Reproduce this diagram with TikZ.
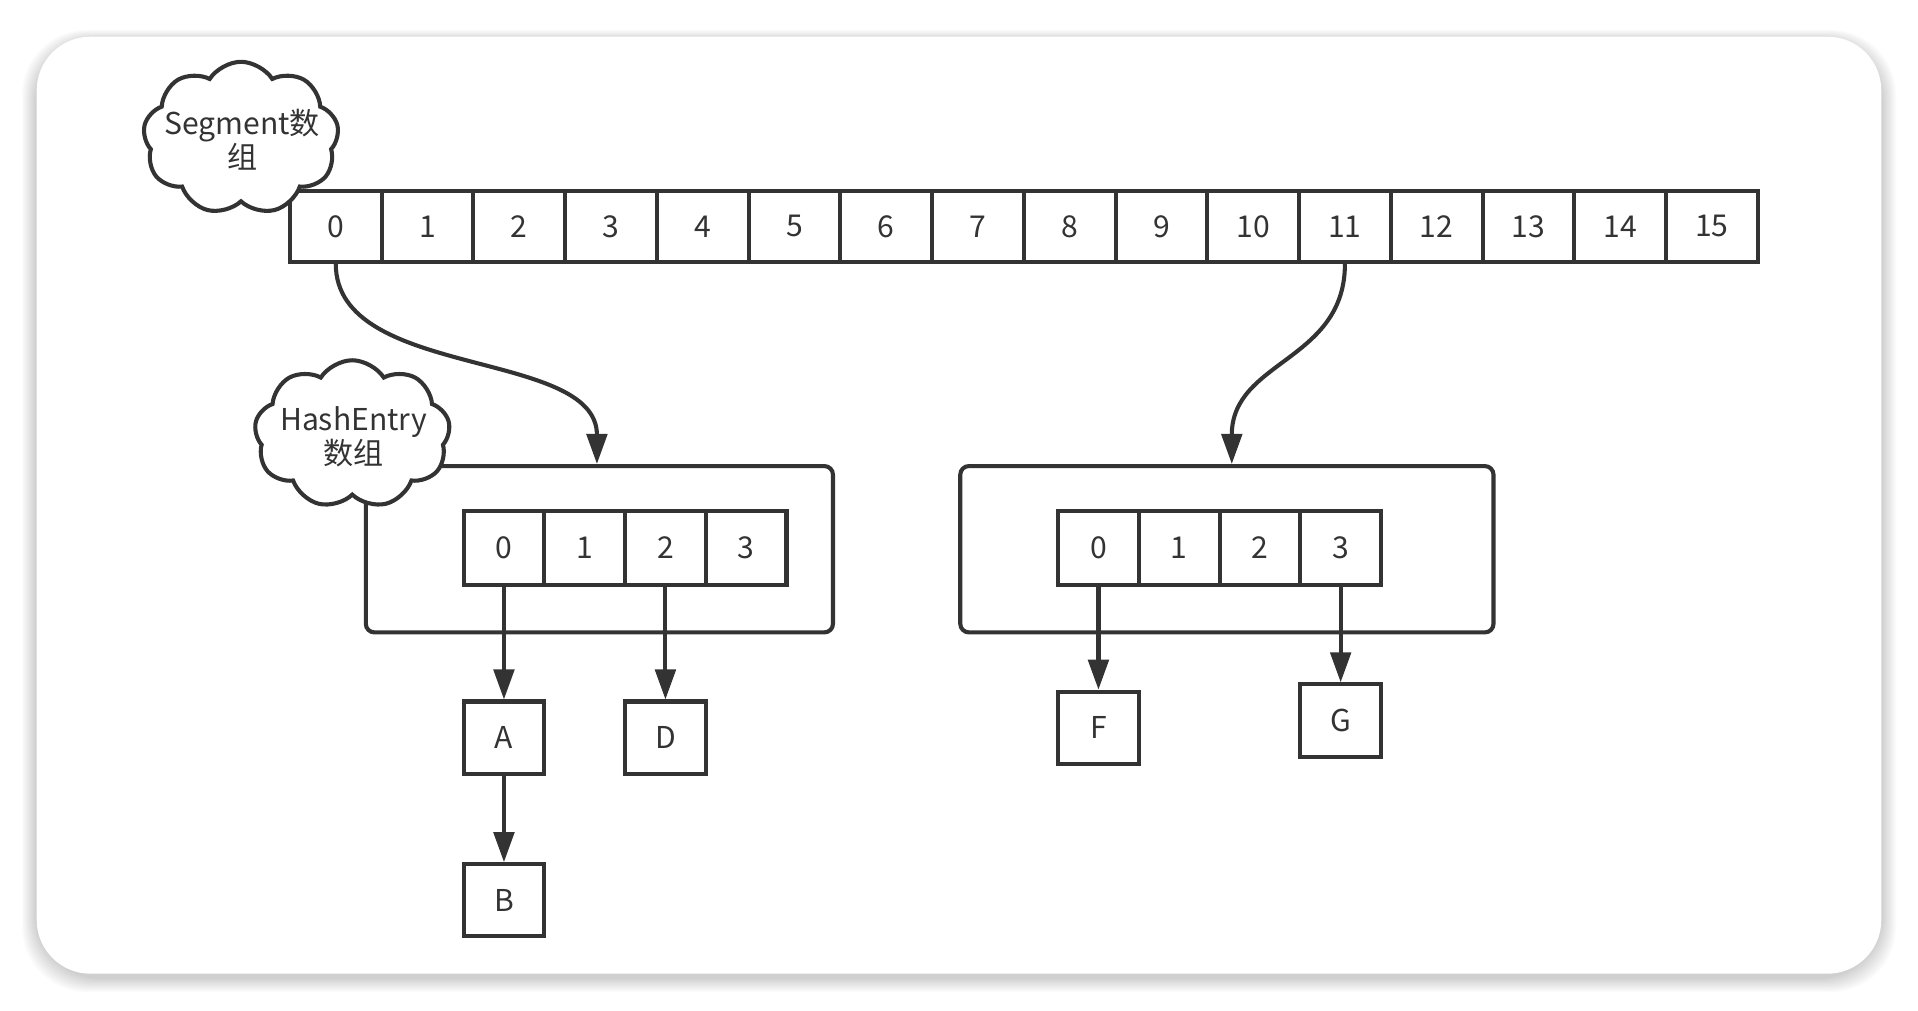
\documentclass[tikz,border=0pt]{standalone}
\usepackage{fontspec}
\setmainfont{Noto Sans CJK SC}
\usetikzlibrary{shapes.symbols,arrows.meta,calc}
\definecolor{ink}{HTML}{333333}
\tikzset{
  every node/.style={text=ink,font=\fontsize{14}{16}\selectfont},
  ln/.style={draw=ink,line width=1.9pt},
  segcell/.style={ln,rectangle,minimum width=1.5cm,minimum height=1.16cm,inner sep=0pt},
  hcell/.style={ln,rectangle,minimum width=1.32cm,minimum height=1.2cm,inner sep=0pt},
  entry/.style={ln,rectangle,minimum width=1.32cm,minimum height=1.18cm,inner sep=0pt},
  holder/.style={ln,rectangle,rounded corners=4pt,inner sep=0pt,minimum height=2.72cm},
  bubble/.style={ln,cloud,cloud puffs=9,cloud puff arc=115,cloud ignores aspect,fill=white,inner sep=0pt},
  arr/.style={ln,-{Triangle[length=14pt,width=9.5pt]}},
}
\begin{document}
\begin{tikzpicture}[x=0.02cm,y=-0.02cm]
\useasboundingbox (0,0) rectangle (1568,826);
\fill[white] (0,0) rectangle (1568,826);
% card shadow
\foreach \k in {1,...,12}{
  \fill[black,opacity=0.014,rounded corners=30] ($(30,33)+(-\k,-\k*0.7)$) rectangle ($(1538,799)+(\k,\k)$);
}
\fill[white,rounded corners=25] (30,30) rectangle (1538,796);
% segment array
\foreach \i in {0,...,15}{
  \node[segcell] (s\i) at ({274.5+75*\i},185) {\i};
}
% containers
\node[holder,minimum width=7.64cm] (hl) at (490,449) {};
\node[holder,minimum width=8.72cm] (hr) at (1003,449) {};
% inner arrays
\foreach \i in {0,...,3}{
  \node[hcell] (l\i) at ({412+66*\i},448) {\i};
  \node[hcell] (r\i) at ({898+66*\i},448) {\i};
}
% entries
\node[entry] (A) at (412,603) {A};
\node[entry] (D) at (544,603) {D};
\node[entry] (B) at (412,736) {B};
\node[entry] (F) at (898,595) {F};
\node[entry] (G) at (1096,589) {G};
% clouds
\node[bubble,minimum width=3.2cm,minimum height=2.5cm] (cseg) at (197,113) {};
\node[align=center] (tseg) at (198,114) {Segment数\\组};
\node[bubble,minimum width=3.2cm,minimum height=2.42cm] (chash) at (288,355) {};
\node[align=center] (thash) at (289,357) {HashEntry\\数组};
% connectors
\draw[arr] (s0.south) .. controls ($(s0.south)+(0,95)$) and ($(hl.north)+(-2,-95)$) .. ($(hl.north)+(-2,0)$);
\draw[arr] (s11.south) .. controls ($(s11.south)+(0,80)$) and ($(hr.north)+(4,-85)$) .. ($(hr.north)+(4,0)$);
\draw[arr] (l0.south) -- (A.north);
\draw[arr] (l2.south) -- (D.north);
\draw[arr] (A.south) -- (B.north);
\draw[arr] (r0.south) -- (F.north);
\draw[arr] (r3.south) -- (G.north);
\end{tikzpicture}
\end{document}
